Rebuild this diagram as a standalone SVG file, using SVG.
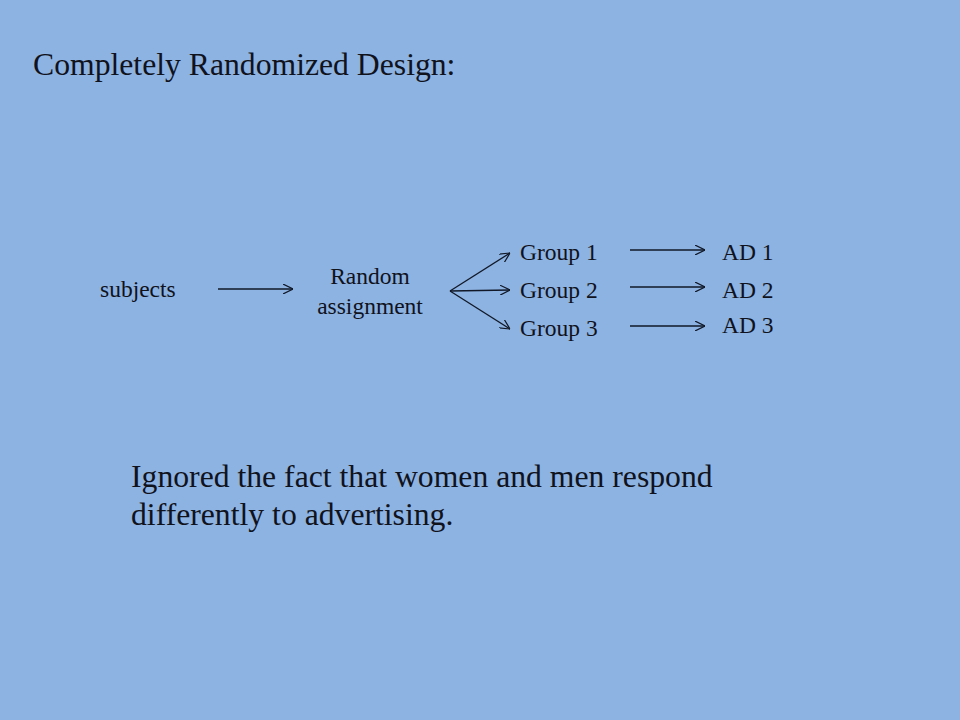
<svg xmlns="http://www.w3.org/2000/svg" width="960" height="720" viewBox="0 0 960 720">
<defs>
<marker id="arr" viewBox="0 0 10 10" refX="10" refY="5" markerWidth="10" markerHeight="10" markerUnits="userSpaceOnUse" orient="auto">
<path d="M0,0 L10,5 L0,10" fill="none" stroke="#111827" stroke-width="1.2"/>
</marker>
<style>
text{font-family:"Liberation Serif","Times New Roman",serif;fill:#10121c}
.big{font-size:31.7px}
.sm{font-size:23.5px}
.c{text-anchor:middle}
line{stroke:#111827;stroke-width:1.3;marker-end:url(#arr)}
</style>
</defs>
<rect width="960" height="720" fill="#8DB3E2"/>
<text id="title" class="big" x="33" y="75">Completely Randomized Design:</text>
<g id="subjects"><text class="sm" x="100" y="297">subjects</text></g>
<g id="random"><text class="sm c" x="370" y="284">Random</text><text class="sm c" x="370" y="314">assignment</text></g>
<g id="group1"><text class="sm" x="520" y="260">Group 1</text></g>
<g id="group2"><text class="sm" x="520" y="298">Group 2</text></g>
<g id="group3"><text class="sm" x="520" y="336">Group 3</text></g>
<g id="ad1"><text class="sm" x="722" y="260">AD 1</text></g>
<g id="ad2"><text class="sm" x="722" y="298">AD 2</text></g>
<g id="ad3"><text class="sm" x="722" y="333">AD 3</text></g>
<g id="connectors">
<line x1="218" y1="289" x2="293" y2="289"/>
<line x1="450" y1="291" x2="510" y2="253"/>
<line x1="450" y1="291" x2="510" y2="290"/>
<line x1="450" y1="291" x2="510" y2="329"/>
<line x1="630" y1="250" x2="705" y2="250"/>
<line x1="630" y1="287" x2="705" y2="287"/>
<line x1="630" y1="326" x2="705" y2="326"/>
</g>
<g id="note"><text class="big" x="131" y="487">Ignored the fact that women and men respond</text><text class="big" x="131" y="525">differently to advertising.</text></g>
</svg>
